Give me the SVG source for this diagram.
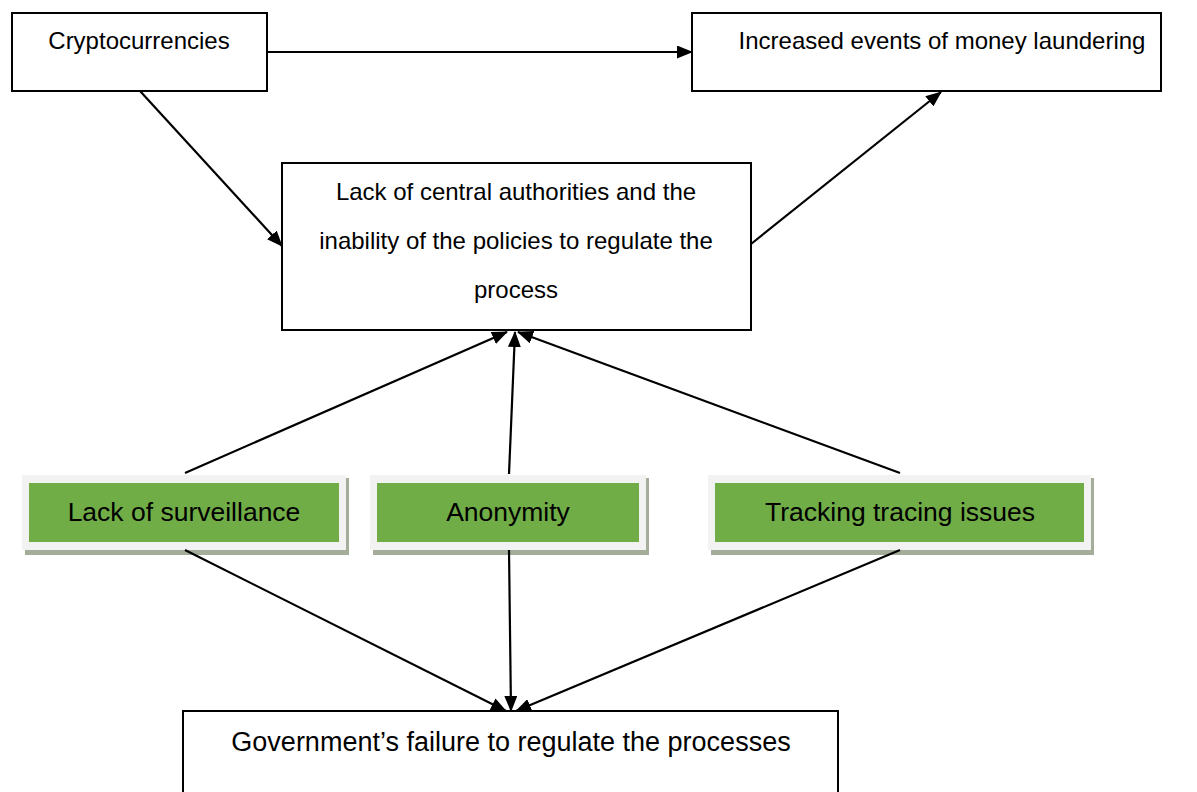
<svg xmlns="http://www.w3.org/2000/svg" width="1197" height="792" viewBox="0 0 1197 792">
<style>
.box{fill:#ffffff;stroke:#000000;stroke-width:2}
.t{font-family:"Liberation Sans",Arial,sans-serif;font-size:24px;fill:#000;text-anchor:middle}
.tl{font-size:27px}
.tg{font-family:"Liberation Sans",Arial,sans-serif;font-size:26.5px;fill:#000;text-anchor:middle}
.frame{fill:#f2f2f2}
.shadow{fill:#a3ad99}
.green{fill:#70ad47}
.conn line{stroke:#000;stroke-width:2.2;marker-end:url(#ah)}
</style>
<defs>
<marker id="ah" viewBox="0 0 16 13" refX="15" refY="6.5" markerWidth="16" markerHeight="13" markerUnits="userSpaceOnUse" orient="auto">
<path d="M0,0 L16,6.5 L0,13 z" fill="#000"/>
</marker>
</defs>
<rect width="1197" height="792" fill="#ffffff"/>
<g id="crypto">
<rect class="box" x="12" y="13" width="255" height="78"/>
<text class="t" x="139" y="49">Cryptocurrencies</text>
</g>
<g id="laundering">
<rect class="box" x="692" y="13" width="469" height="78"/>
<text class="t" x="942" y="49">Increased events of money laundering</text>
</g>
<g id="central">
<rect class="box" x="282" y="163" width="469" height="167"/>
<text class="t" x="516" y="200">Lack of central authorities and the</text>
<text class="t" x="516" y="249">inability of the policies to regulate the</text>
<text class="t" x="516" y="298">process</text>
</g>
<g id="surveillance">
<rect class="shadow" x="25" y="478" width="324" height="77"/>
<rect class="frame" x="22" y="475" width="324" height="75"/>
<rect class="green" x="29" y="483" width="310" height="59"/>
<text class="tg" x="184" y="521">Lack of surveillance</text>
</g>
<g id="anonymity">
<rect class="shadow" x="373" y="478" width="276" height="77"/>
<rect class="frame" x="370" y="475" width="276" height="75"/>
<rect class="green" x="377" y="483" width="262" height="59"/>
<text class="tg" x="508" y="521">Anonymity</text>
</g>
<g id="tracking">
<rect class="shadow" x="711" y="478" width="383" height="77"/>
<rect class="frame" x="708" y="475" width="383" height="75"/>
<rect class="green" x="715" y="483" width="369" height="59"/>
<text class="tg" x="900" y="521">Tracking tracing issues</text>
</g>
<g id="government">
<rect class="box" x="183" y="711" width="655" height="100"/>
<text class="t tl" x="511" y="751">Government’s failure to regulate the processes</text>
</g>
<g class="conn" id="connectors">
<line x1="267" y1="52" x2="692" y2="52"/>
<line x1="140" y1="91" x2="282" y2="246"/>
<line x1="751" y1="244" x2="941" y2="92"/>
<line x1="185" y1="473" x2="507" y2="332"/>
<line x1="509" y1="474" x2="515" y2="332"/>
<line x1="900" y1="473" x2="518" y2="332"/>
<line x1="185" y1="550" x2="506" y2="711"/>
<line x1="509" y1="550" x2="511" y2="711"/>
<line x1="900" y1="550" x2="516" y2="711"/>
</g>
</svg>
